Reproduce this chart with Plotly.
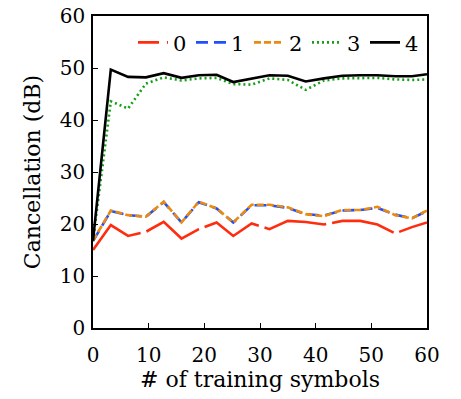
import plotly.graph_objects as go

x_symbols = [0, 3.2, 6.3, 9.5, 12.7, 15.9, 19.0, 22.2, 25.2, 28.5, 31.7, 35.0, 38.2, 41.5, 44.8, 48.0, 51.1, 54.3, 57.3, 60]

s0 = [15.0, 19.8, 17.7, 18.5, 20.4, 17.2, 19.0, 20.3, 17.7, 20.1, 19.0, 20.6, 20.4, 19.9, 20.6, 20.6, 19.9, 18.2, 19.4, 20.3]
s1 = [16.7, 22.5, 21.7, 21.4, 24.2, 20.3, 24.2, 23.0, 20.3, 23.6, 23.6, 23.1, 21.9, 21.6, 22.6, 22.7, 23.1, 21.8, 21.1, 22.5]
s2 = [16.8, 22.6, 21.7, 21.4, 24.3, 20.3, 24.3, 23.0, 20.3, 23.7, 23.7, 23.2, 21.9, 21.5, 22.7, 22.7, 23.3, 21.7, 21.1, 22.6]
s3 = [16.8, 43.6, 42.2, 47.0, 48.2, 47.6, 48.0, 48.1, 46.9, 46.8, 48.0, 47.7, 45.8, 47.6, 48.0, 48.1, 48.1, 47.8, 47.7, 47.8]
s4 = [16.8, 49.7, 48.3, 48.2, 49.0, 48.1, 48.6, 48.7, 47.3, 47.9, 48.6, 48.5, 47.4, 48.0, 48.5, 48.6, 48.6, 48.4, 48.4, 48.8]

names = ["0", "1", "2", "3", "4"]
series = [s0, s1, s2, s3, s4]
colors = ["#ff2d0f", "#1f4fff", "#ea8a10", "#14a014", "#000000"]
plot_dash = ["64px,6px", "12px,6px", "7px,3px", "2px,3px", "solid"]
legend_dash = ["21px,8px,6px,8px", "12px,6px", "7px,3px", "2px,3px", "solid"]

FONT = "DejaVu Serif"

fig = go.Figure()
for name, ys, c, d in zip(names, series, colors, plot_dash):
    fig.add_trace(go.Scatter(x=x_symbols, y=ys, mode="lines", showlegend=False,
                             line=dict(color=c, width=2.6, dash=d)))
for name, c, d in zip(names, colors, legend_dash):
    fig.add_trace(go.Scatter(x=[None], y=[None], mode="lines", name=name,
                             line=dict(color=c, width=2.6, dash=d)))

fig.update_layout(
    width=461, height=399,
    margin=dict(l=93, r=34, t=16, b=71, autoexpand=False),
    paper_bgcolor="white", plot_bgcolor="white",
    font=dict(family=FONT, size=20, color="black"),
    showlegend=True,
    legend=dict(orientation="h", x=0.988, xanchor="right", y=0.98, yanchor="top",
                bgcolor="rgba(0,0,0,0)", font=dict(size=21, family=FONT),
                entrywidth=13, entrywidthmode="pixels", itemwidth=30,
                tracegroupgap=0),
)
fig.update_xaxes(range=[0, 60], tickvals=[0, 10, 20, 30, 40, 50, 60],
                 ticks="inside", ticklen=5, tickwidth=1, tickcolor="black",
                 showline=True, linecolor="black", linewidth=1.5, mirror=True,
                 showgrid=False, zeroline=False, automargin=False,
                 ticklabelstandoff=8,
                 title=dict(text="# of training symbols", standoff=6, font=dict(size=22, family=FONT)),
                 tickfont=dict(size=20, family=FONT))
fig.update_yaxes(range=[0, 60], tickvals=[0, 10, 20, 30, 40, 50, 60],
                 ticks="inside", ticklen=5, tickwidth=1, tickcolor="black",
                 showline=True, linecolor="black", linewidth=1.5, mirror=True,
                 showgrid=False, zeroline=False, automargin=False,
                 ticklabelstandoff=2,
                 title=dict(text="Cancellation (dB)", standoff=13, font=dict(size=22, family=FONT)),
                 tickfont=dict(size=20, family=FONT))

fig.write_html("out.html", post_script="document.body.style.margin='0';",
               config={"displayModeBar": False})
